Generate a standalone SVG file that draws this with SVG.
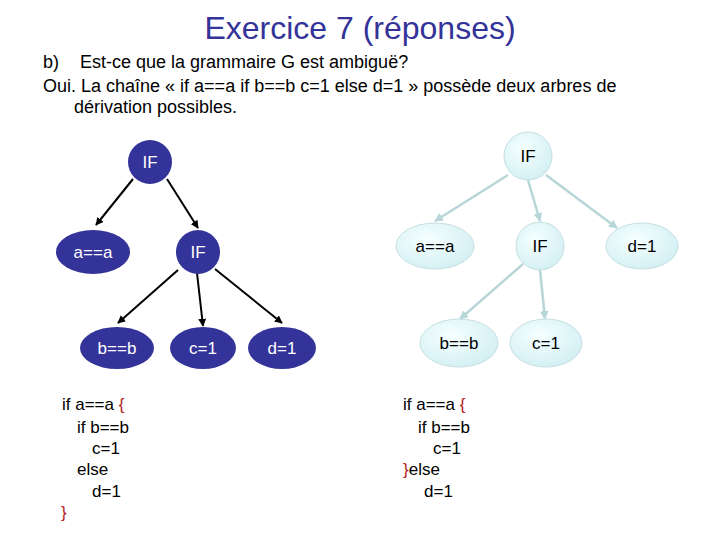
<svg xmlns="http://www.w3.org/2000/svg" width="720" height="540" viewBox="0 0 720 540">
<defs>
<style>
text{font-family:"Liberation Sans",Arial,sans-serif}
.title{font-size:32px;fill:#333399}
.body{font-size:18px;fill:#000}
.code{font-size:17px;fill:#000}
.brace{fill:#b22222}
.dk ellipse,.dk circle{fill:#333399}
.dk text{font-size:17px;fill:#fff;text-anchor:middle}
.lt ellipse,.lt circle{fill:url(#lg);stroke:#c4dfe2;stroke-width:1}
.lt text{font-size:17px;fill:#000;text-anchor:middle}
.ed{stroke:#000;stroke-width:2;fill:none;marker-end:url(#ab)}
.el{stroke:#b8d6d8;stroke-width:2.5;fill:none;marker-end:url(#al)}
</style>
<radialGradient id="lg" cx="0.4" cy="0.35" r="0.7">
<stop offset="0" stop-color="#f6ffff"/>
<stop offset="1" stop-color="#d2eff3"/>
</radialGradient>
<marker id="ab" viewBox="0 0 10 10" refX="9" refY="5" markerWidth="4" markerHeight="4" orient="auto"><path d="M0,0 L10,5 L0,10 z" fill="#000"/></marker>
<marker id="al" viewBox="0 0 10 10" refX="9" refY="5" markerWidth="3.5" markerHeight="3.5" orient="auto"><path d="M0,0 L10,5 L0,10 z" fill="#b8d6d8"/></marker>
</defs>
<rect width="720" height="540" fill="#fff"/>
<text class="title" x="360" y="39" text-anchor="middle">Exercice 7 (réponses)</text>
<text class="body" x="43" y="68">b)</text>
<text class="body" x="80" y="68">Est-ce que la grammaire G est ambiguë?</text>
<text class="body" x="43" y="92">Oui. La chaîne « if a==a if b==b c=1 else d=1 » possède deux arbres de</text>
<text class="body" x="74" y="113">dérivation possibles.</text>

<g id="connectors">
<line class="ed" x1="133" y1="179" x2="96" y2="225"/>
<line class="ed" x1="167" y1="179" x2="198" y2="228"/>
<line class="ed" x1="178" y1="270" x2="118" y2="323"/>
<line class="ed" x1="197" y1="273" x2="203" y2="326"/>
<line class="ed" x1="215" y1="269" x2="282" y2="323"/>
<line class="el" x1="508" y1="175" x2="435" y2="221"/>
<line class="el" x1="528" y1="180" x2="540" y2="221"/>
<line class="el" x1="546" y1="175" x2="617" y2="228"/>
<line class="el" x1="523" y1="264" x2="460" y2="319"/>
<line class="el" x1="540" y1="270" x2="545" y2="319"/>
</g>

<g id="L-if1" class="dk"><circle cx="150" cy="162" r="22"/><text x="150" y="168">IF</text></g>
<g id="L-aa" class="dk"><ellipse cx="93" cy="252" rx="37" ry="22"/><text x="93" y="258">a==a</text></g>
<g id="L-if2" class="dk"><circle cx="198" cy="252" r="22"/><text x="198" y="258">IF</text></g>
<g id="L-bb" class="dk"><ellipse cx="117" cy="348" rx="37" ry="21"/><text x="117" y="354">b==b</text></g>
<g id="L-c1" class="dk"><ellipse cx="203" cy="348" rx="33" ry="21"/><text x="203" y="354">c=1</text></g>
<g id="L-d1" class="dk"><ellipse cx="282" cy="348" rx="34" ry="21"/><text x="282" y="354">d=1</text></g>

<g id="R-if1" class="lt"><circle cx="528" cy="156" r="24"/><text x="528" y="162">IF</text></g>
<g id="R-aa" class="lt"><ellipse cx="435" cy="246" rx="39" ry="23"/><text x="435" y="252">a==a</text></g>
<g id="R-if2" class="lt"><circle cx="540" cy="246" r="24"/><text x="540" y="252">IF</text></g>
<g id="R-d1" class="lt"><ellipse cx="642" cy="246" rx="36" ry="23"/><text x="642" y="252">d=1</text></g>
<g id="R-bb" class="lt"><ellipse cx="459" cy="343" rx="39" ry="24"/><text x="459" y="349">b==b</text></g>
<g id="R-c1" class="lt"><ellipse cx="546" cy="343" rx="36" ry="24"/><text x="546" y="349">c=1</text></g>

<g id="code-left">
<text class="code" x="62" y="410">if a==a <tspan class="brace">{</tspan></text>
<text class="code" x="77" y="433">if b==b</text>
<text class="code" x="92" y="454">c=1</text>
<text class="code" x="77" y="475">else</text>
<text class="code" x="92" y="497">d=1</text>
<text class="code brace" x="61" y="518">}</text>
</g>
<g id="code-right">
<text class="code" x="403" y="410">if a==a <tspan class="brace">{</tspan></text>
<text class="code" x="418" y="433">if b==b</text>
<text class="code" x="433" y="454">c=1</text>
<text class="code" x="403" y="475"><tspan class="brace">}</tspan>else</text>
<text class="code" x="424" y="497">d=1</text>
</g>
</svg>
